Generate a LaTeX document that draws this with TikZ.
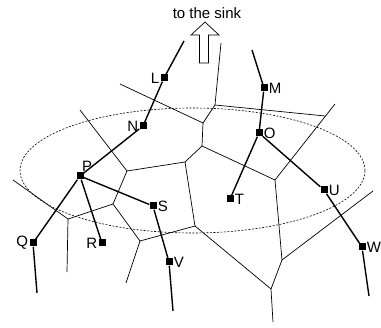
\documentclass[tikz,border=0pt]{standalone}
\usepackage{fontspec}
\setmainfont{Liberation Sans}

\begin{document}
\begin{tikzpicture}[x=1pt, y=-1pt,
  sensor/.style={rectangle, fill=black, minimum size=7pt, inner sep=0pt,
    label distance=2pt},
  every label/.style={font=\fontsize{15}{17}\selectfont, inner sep=1pt},
  route/.style={line width=1.4pt},
  cell/.style={line width=0.7pt}]
  \useasboundingbox (0,0) rectangle (381,328);
  % voronoi cells
  \coordinate (a) at (127,171);  \coordinate (b) at (185,162);
  \coordinate (c) at (113,204);  \coordinate (d) at (215,105);
  \coordinate (e) at (203,123);  \coordinate (f) at (202,146);
  \coordinate (g) at (275,180);  \coordinate (h) at (325,116);
  \coordinate (i) at (195,226);  \coordinate (j) at (140,241);
  \coordinate (k) at (271,289);  \coordinate (m) at (282,260);
  \coordinate (q) at (68,219);
  \coordinate (a0) at (80,110);  \coordinate (e0) at (120,84);
  \coordinate (d0) at (221,43);  \coordinate (h0) at (335,104);
  \coordinate (m0) at (373,191); \coordinate (k0) at (273,322);
  \coordinate (j0) at (126,283); \coordinate (q0) at (13,180);
  \coordinate (q1) at (67,272);
  \foreach \s/\t in {a0/a, a/b, a/c, b/f, b/i, f/e, f/g, e/d, e/e0, d/d0,
    d/h, g/h0, g/m, m/m0, m/k, k/k0, k/i, i/j, j/j0, j/c, c/q, q/q0, q/q1}
    \draw[cell] (\s) -- (\t);
  % region
  \draw[dash pattern=on 2pt off 1.5pt, line width=0.6pt]
    (192.5,170.5) ellipse [x radius=172.5pt, y radius=62.5pt];
  % sensors
  \foreach \n/\x/\y/\p in {L/164/78/left, M/264/88/right, N/143/126/left,
    O/259/133/right, P/80/176/75, Q/33/243/left, R/102/243/left,
    S/153/206/right, T/230/199/right, U/324/190/right, V/169/262/right,
    W/362/247/right}
    \node[sensor, label=\p:\n] (\n) at (\x,\y) {};
  \coordinate (Lend) at (184,41);  \coordinate (Mend) at (252,50);
  \coordinate (Qend) at (37,293);  \coordinate (Vend) at (173,311);
  \coordinate (Wend) at (369,296);
  \draw[route] (Lend) -- (L) -- (N) -- (P) -- (Q) -- (Qend);
  \draw[route] (P) -- (R);
  \draw[route] (P) -- (S) -- (V) -- (Vend);
  \draw[route] (Mend) -- (M) -- (O) -- (T);
  \draw[route] (O) -- (U) -- (W) -- (Wend);
  % sink direction
  \draw[line width=0.7pt] (205,22) -- (219,35) -- (208.5,35) -- (208.5,63)
    -- (199.5,63) -- (199.5,35) -- (191,35) -- cycle;
  \node[font=\fontsize{15}{17}\selectfont] (sink) at (207,13) {to the sink};
\end{tikzpicture}
\end{document}
